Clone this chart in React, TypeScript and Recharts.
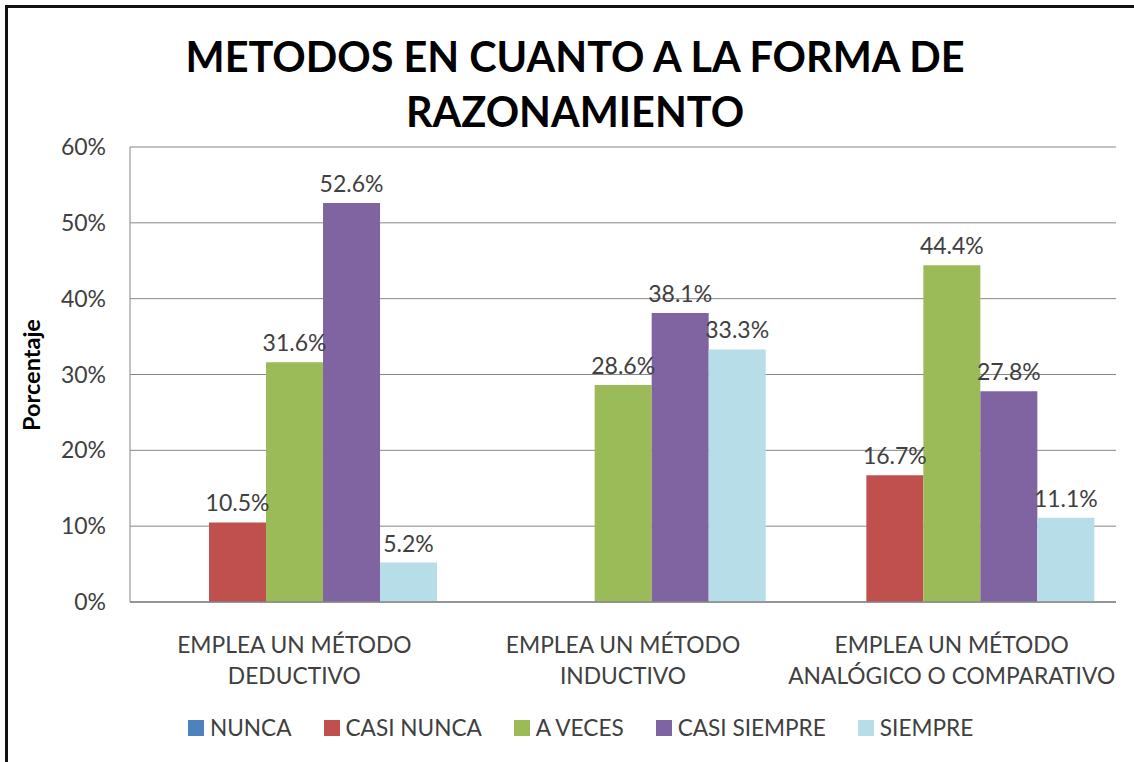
import { BarChart, Bar, XAxis, YAxis, CartesianGrid, Legend, LabelList } from "recharts";

const categories = [
  ["EMPLEA UN MÉTODO", "DEDUCTIVO"],
  ["EMPLEA UN MÉTODO", "INDUCTIVO"],
  ["EMPLEA UN MÉTODO", "ANALÓGICO O COMPARATIVO"],
];

const nunca = [0, 0, 0];
const casiNunca = [10.5, 0, 16.7];
const aVeces = [31.6, 28.6, 44.4];
const casiSiempre = [52.6, 38.1, 27.8];
const siempre = [5.2, 33.3, 11.1];

const yTicks = [0, 10, 20, 30, 40, 50, 60];

const series = [
  { key: "nunca", name: "NUNCA", color: "#4F81BD", values: nunca },
  { key: "casiNunca", name: "CASI NUNCA", color: "#C0504D", values: casiNunca },
  { key: "aVeces", name: "A VECES", color: "#9BBB59", values: aVeces },
  { key: "casiSiempre", name: "CASI SIEMPRE", color: "#8064A2", values: casiSiempre },
  { key: "siempre", name: "SIEMPRE", color: "#B7DDE8", values: siempre },
];

const chartData = categories.map((lines, i) => {
  const row: Record<string, any> = { name: lines.join(" "), lines };
  series.forEach((s) => {
    row[s.key] = s.values[i];
  });
  return row;
});

const FONT = "Lato, 'Open Sans', sans-serif";
const TEXT = "#404040";

const CategoryTick = ({ x, y, index }: any) => {
  const lines = categories[index] || [];
  return (
    <text x={x} y={y} textAnchor="middle" fill={TEXT} fontSize={22.8} fontFamily={FONT}>
      {lines.map((l, i) => (
        <tspan key={i} x={x} dy={i === 0 ? 51 : 31}>
          {l}
        </tspan>
      ))}
    </text>
  );
};

const LegendContent = () => (
  <div style={{ display: "flex", alignItems: "center", fontFamily: FONT, fontSize: 22.6, color: TEXT }}>
    {series.map((s) => (
      <div key={s.key} style={{ display: "flex", alignItems: "center", marginRight: 32 }}>
        <span style={{ width: 16, height: 16, background: s.color, display: "inline-block", marginRight: 6 }} />
        <span>{s.name}</span>
      </div>
    ))}
  </div>
);

const fmtLabel = (v: any) => (v ? `${Number(v).toFixed(1)}%` : "");

const App = () => {
  return (
    <div
      style={{
        position: "fixed",
        left: 0,
        top: 0,
        width: 1134,
        height: 762,
        overflow: "hidden",
        background: "#fff",
      }}
    >
      <div
        style={{
          position: "absolute",
          left: 5,
          top: 5,
          width: 1200,
          height: 800,
          border: "3px solid #111",
        }}
      />
      <div
        style={{
          position: "absolute",
          left: 0,
          width: 1150,
          top: 29,
          textAlign: "center",
          fontFamily: FONT,
          fontWeight: 700,
          fontSize: 41.4,
          lineHeight: "55px",
          color: "#000",
        }}
      >
        METODOS EN CUANTO A LA FORMA DE
        <br />
        RAZONAMIENTO
      </div>
      <div
        style={{
          position: "absolute",
          left: 31,
          top: 375,
          transform: "translate(-50%, -50%) rotate(-90deg)",
          fontFamily: FONT,
          fontWeight: 700,
          fontSize: 23.5,
          color: "#000",
          whiteSpace: "nowrap",
        }}
      >
        Porcentaje
      </div>
      <BarChart
        width={1134}
        height={762}
        data={chartData}
        margin={{ top: 147, right: 18, bottom: 60, left: 20 }}
        barCategoryGap="6.7%"
        barGap={0}
        style={{ position: "absolute", left: 0, top: 0 }}
      >
        <CartesianGrid vertical={false} stroke="#868686" />
        <XAxis
          dataKey="name"
          height={100}
          tick={<CategoryTick />}
          tickLine={false}
          tickSize={0}
          tickMargin={0}
          axisLine={{ stroke: "#868686", strokeWidth: 1.5 }}
          interval={0}
        />
        <YAxis
          width={110}
          domain={[0, 60]}
          ticks={yTicks}
          tickFormatter={(v) => `${v}%`}
          tickLine={false}
          tickSize={0}
          tickMargin={24}
          axisLine={{ stroke: "#868686" }}
          tick={{ fill: TEXT, fontSize: 23, fontFamily: FONT }}
        />
        <Legend
          verticalAlign="middle"
          align="center"
          layout="horizontal"
          content={<LegendContent />}
          wrapperStyle={{ position: "absolute", left: 188, top: 714, width: "auto", height: "auto" }}
        />
        {series.map((s) => (
          <Bar key={s.key} dataKey={s.key} name={s.name} fill={s.color} isAnimationActive={false}>
            <LabelList
              dataKey={s.key}
              position="top"
              offset={11}
              formatter={fmtLabel}
              fill={TEXT}
              fontSize={23}
              fontFamily={FONT}
            />
          </Bar>
        ))}
      </BarChart>
    </div>
  );
};

export default App;
